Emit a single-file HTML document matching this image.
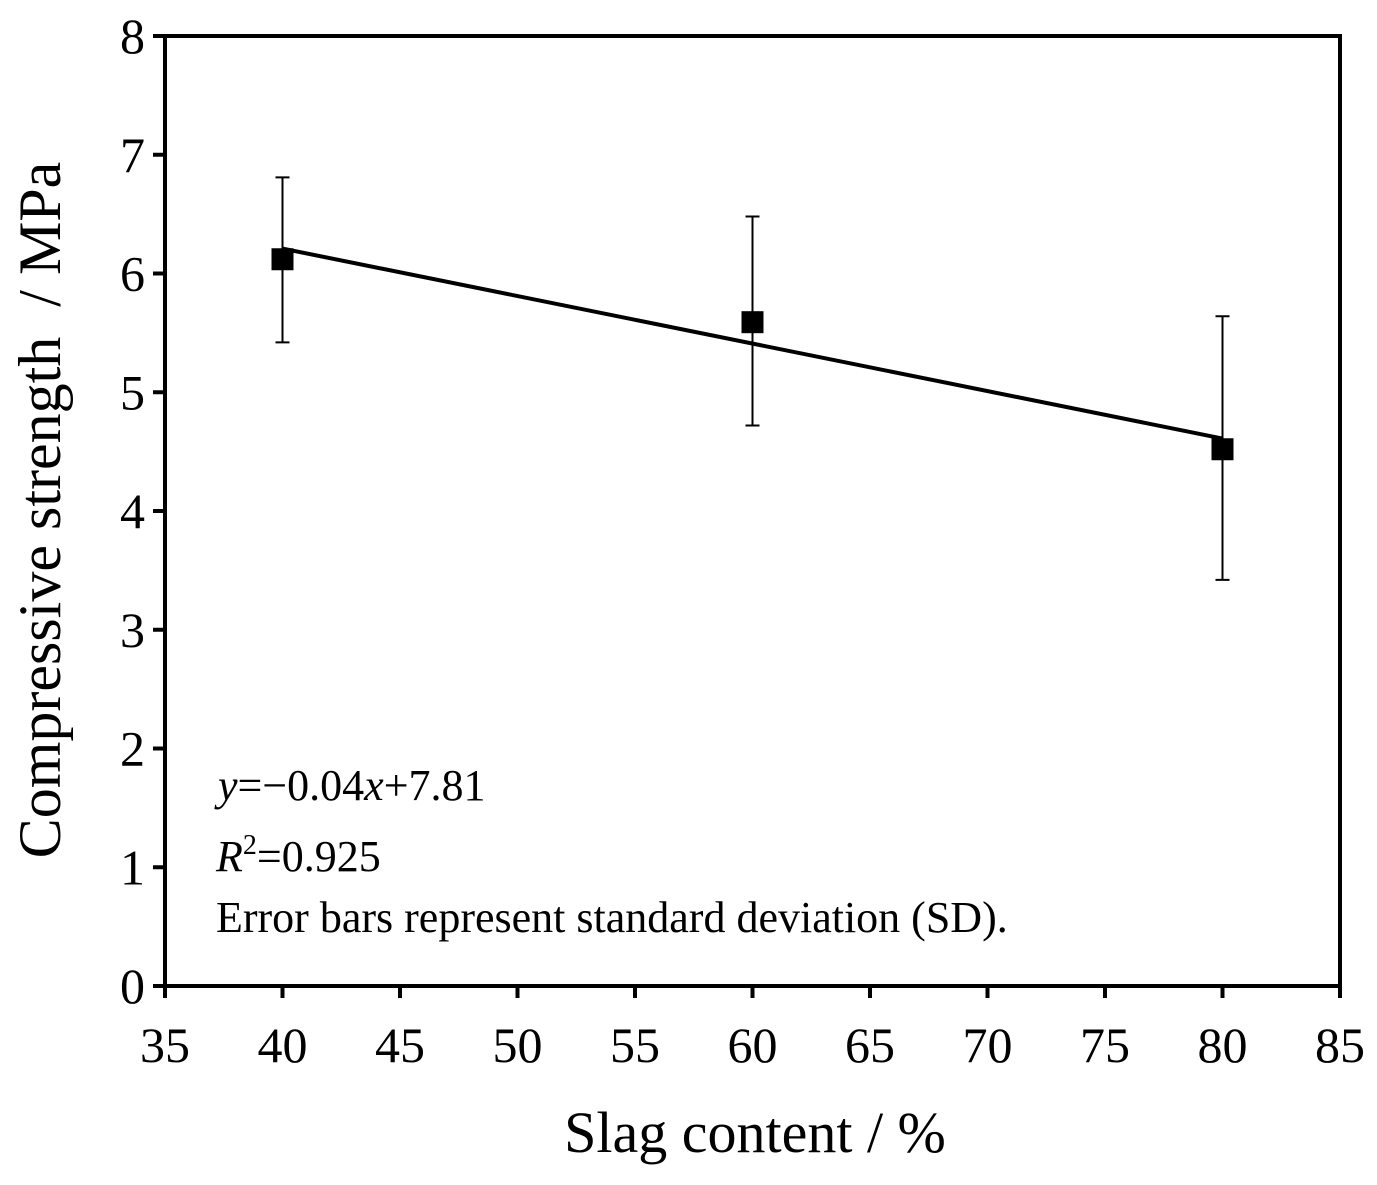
<!DOCTYPE html>
<html><head><meta charset="utf-8"><style>
body{margin:0;background:#fff}
svg{display:block;font-family:"Liberation Serif",serif}
</style></head><body>
<svg width="1377" height="1185" viewBox="0 0 1377 1185">
<g id="g"></g>
</svg>
<script>
const xCats=[40,60,80];
const yMean=[6.12,5.59,4.52];
const yUpper=[6.81,6.48,5.64];
const yLower=[5.42,4.72,3.42];
const fitSlope=-0.04;
const fitIntercept=7.81;
const xTicks=[35,40,45,50,55,60,65,70,75,80,85];
const yTicks=[0,1,2,3,4,5,6,7,8];

const L=165,R=1340,T=36,B=986;
const X=v=>L+(v-35)/50*(R-L);
const Y=v=>B-v/8*(B-T);
const g=document.getElementById('g');
const NS='http://www.w3.org/2000/svg';
function mk(tag,attrs,parent){const e=document.createElementNS(NS,tag);for(const k in attrs)e.setAttribute(k,attrs[k]);(parent||g).appendChild(e);return e;}

const frame=mk('rect',{x:L,y:T,width:R-L,height:B-T,fill:'none',stroke:'#000','stroke-width':4});



xTicks.forEach(t=>{
  const l=mk('line',{x1:X(t),x2:X(t),y1:B,y2:B+12,stroke:'#000','stroke-width':4});
  
  
  const tx=mk('text',{x:X(t),y:B+76,'text-anchor':'middle','font-size':50});
  tx.textContent=t;
  
  
});
yTicks.forEach(t=>{
  const l=mk('line',{x1:L-12,x2:L,y1:Y(t),y2:Y(t),stroke:'#000','stroke-width':4});
  
  
  const tx=mk('text',{x:L-20,y:Y(t)+17,'text-anchor':'end','font-size':50});
  tx.textContent=t;
  
  
});

const fx0=xCats[0],fx1=xCats[xCats.length-1];
const fit=mk('line',{x1:X(fx0),y1:Y(fitSlope*fx0+fitIntercept),x2:X(fx1),y2:Y(fitSlope*fx1+fitIntercept),stroke:'#000','stroke-width':4});



xCats.forEach((c,i)=>{
  const x=X(c);
  const eb=mk('path',{d:`M${x},${Y(yUpper[i])}V${Y(yLower[i])}M${x-7},${Y(yUpper[i])}H${x+7}M${x-7},${Y(yLower[i])}H${x+7}`,stroke:'#000','stroke-width':2,fill:'none'});
  
  
  const p=mk('rect',{x:x-11,y:Y(yMean[i])-11,width:22,height:22,fill:'#000'});
  
  
});
</script>
<svg width="1377" height="1185" style="position:absolute;left:0;top:0;font-family:'Liberation Serif',serif">
<text x="218" y="800" font-size="44"><tspan font-style="italic">y</tspan>=−0.04<tspan font-style="italic">x</tspan>+7.81</text>
<text x="216" y="871" font-size="44"><tspan font-style="italic">R</tspan><tspan font-size="28" dy="-17">2</tspan><tspan dy="17">=0.925</tspan></text>
<text x="216" y="932" font-size="44">Error bars represent standard deviation (SD).</text>
<text x="755" y="1152" font-size="58" text-anchor="middle">Slag content / %</text>
<text transform="translate(60,510) rotate(-90)" font-size="60" text-anchor="middle">Compressive strength&#160; / MPa</text>
</svg>
</body></html>
